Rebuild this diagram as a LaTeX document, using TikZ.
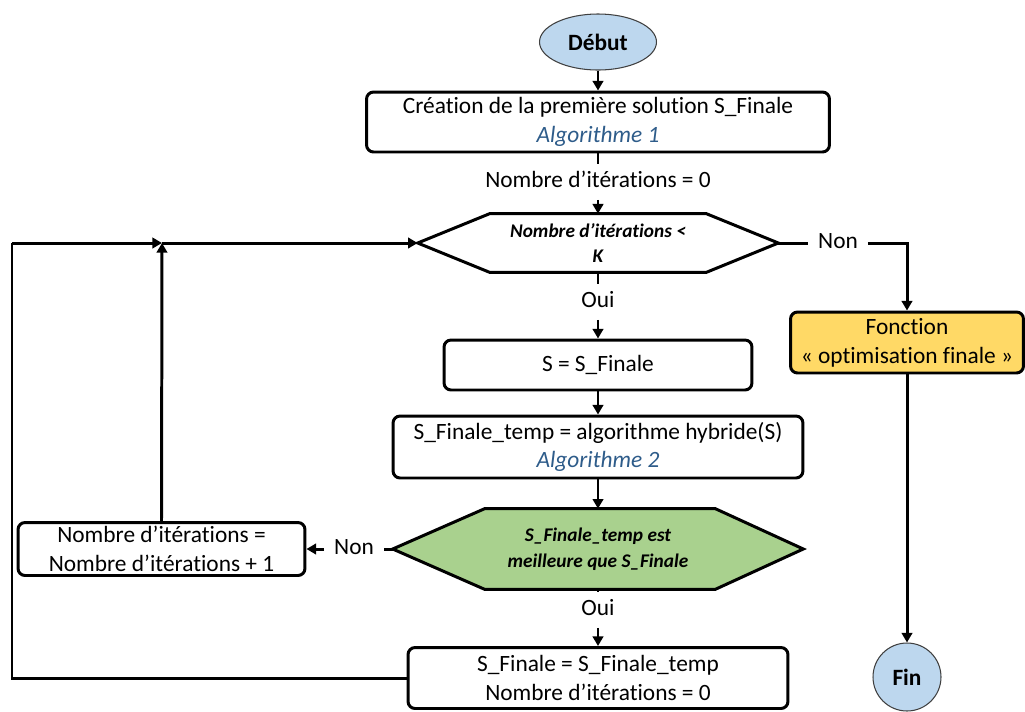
\documentclass[tikz,border=0pt]{standalone}
\usepackage{fontspec}
\setmainfont[Ligatures=NoCommon]{Carlito}
\usepackage{xcolor}
\usetikzlibrary{arrows.meta,backgrounds,calc,positioning,shapes.geometric}
\definecolor{debutblue}{HTML}{BDD7EE}
\definecolor{algoblue}{HTML}{2E5C8A}
\definecolor{optyellow}{HTML}{FFD966}
\definecolor{testgreen}{HTML}{A9D18E}

\begin{document}
\begin{tikzpicture}[x=0.02cm,y=-0.02cm,
    txt/.style={font=\fontsize{13.3}{16.4}\selectfont},
    etape/.style={txt,draw,rounded corners=4pt,line width=1.7pt,align=center,inner sep=0pt},
    testhex/.style={font=\fontsize{11}{14.7}\selectfont\bfseries\itshape,align=center,inner sep=0pt},
    borne/.style={font=\fontsize{13.3}{16}\selectfont\bfseries,draw=black!75,line width=0.6pt,fill=debutblue,inner sep=0pt},
    etiq/.style={txt,inner xsep=5.5pt,inner ysep=4pt,text height=9.3pt,text depth=2.7pt},
    lien/.style={line width=1.7pt},
    fleche/.style={lien,-{Triangle[length=5.5pt,width=6pt]}}]

                        \useasboundingbox (0,0) rectangle (1025,711);

                        % Drawing node debut
                        \node[borne,ellipse,minimum width=2.34cm,minimum height=1.12cm] (debut) at (598,42) {Début};

                        % Drawing node crea
                        \node[etape,minimum width=9.26cm,minimum height=1.2cm] (crea) at (598,122)
                            {Création de la première solution S\_Finale\\{\color{algoblue}\itshape Algorithme 1}};

                        % Marking point {nbzero}
                        \node[etiq] (nbzero) at (598,182) {Nombre d’itérations = 0};

                        % Drawing node hexa (test on K)
                        \node[testhex,minimum width=7.2cm,minimum height=1.16cm] (hexa) at (598,243)
                            {Nombre d’itérations <\\K};

                        % Marking point {nonA}
                        \node[etiq] (nonA) at (838,243) {Non};

                        % Drawing node fonc
                        \node[etape,fill=optyellow,minimum width=4.66cm,minimum height=1.22cm] (fonc) at (907,342.5)
                            {Fonction\\« optimisation finale »};

                        % Drawing node fin
                        \node[borne,circle,minimum size=1.36cm] (fin) at (907,677) {Fin};

                        % Marking point {ouiA}
                        \node[etiq] (ouiA) at (598,302) {Oui};

                        % Drawing node saff
                        \node[etape,minimum width=6.16cm,minimum height=1.0cm] (saff) at (598,365) {S = S\_Finale};

                        % Drawing node hyb
                        \node[etape,minimum width=8.2cm,minimum height=1.24cm] (hyb) at (598,447)
                            {S\_Finale\_temp = algorithme hybride(S)\\{\color{algoblue}\itshape Algorithme 2}};

                        % Drawing node hexb (comparison)
                        \node[testhex,minimum width=8.2cm,minimum height=1.6cm] (hexb) at (598,549)
                            {S\_Finale\_temp est\\meilleure que S\_Finale};

                        % Marking point {ouiB}
                        \node[etiq] (ouiB) at (598,610) {Oui};

                        % Drawing node sfin
                        \node[etape,minimum width=7.6cm,minimum height=1.22cm] (sfin) at (598,678)
                            {S\_Finale = S\_Finale\_temp\\Nombre d’itérations = 0};

                        % Marking point {nonB}
                        \node[etiq] (nonB) at (354,549) {Non};

                        % Drawing node incr
                        \node[etape,minimum width=5.74cm,minimum height=1.06cm] (incr) at (161.5,549)
                            {Nombre d’itérations =\\Nombre d’itérations + 1};

                        \coordinate (jonc) at (162,243);
                        \coordinate (coin) at (12,243);

                        % Drawing hexagons behind their texts
                        \begin{scope}[on background layer]
                        \filldraw[line width=1.7pt,fill=white] (hexa.west) -- ($(hexa.north west)+(72,0)$) -- ($(hexa.north east)+(-72,0)$)
                            -- (hexa.east) -- ($(hexa.south east)+(-72,0)$) -- ($(hexa.south west)+(72,0)$) -- cycle;
                        \filldraw[line width=1.7pt,fill=testgreen] (hexb.west) -- ($(hexb.north west)+(92,0)$) -- ($(hexb.north east)+(-88,0)$)
                            -- (hexb.east) -- ($(hexb.south east)+(-88,0)$) -- ($(hexb.south west)+(92,0)$) -- cycle;
                        \end{scope}

                        % Drawing arrows of the main column
                        \draw[fleche] (debut.south) -- (crea.north);
                        \draw[lien] (crea.south) -- (nbzero.north);
                        \draw[fleche] (nbzero.south) -- (hexa.north);
                        \draw[lien] (hexa.south) -- (ouiA.north);
                        \draw[fleche] (ouiA.south) -- (saff.north);
                        \draw[fleche] (saff.south) -- (hyb.north);
                        \draw[fleche] (hyb.south) -- (hexb.north);
                        \draw[lien] (hexb.south) -- (ouiB.north);
                        \draw[fleche] (ouiB.south) -- (sfin.north);

                        % Drawing arrows of the right branch
                        \draw[lien] (hexa.east) -- (nonA.west);
                        \draw[fleche] (nonA.east) -| (fonc.north);
                        \draw[fleche] (fonc.south) -- (fin.north);

                        % Drawing the loops back to the test
                        \draw[lien] (hexb.west) -- (nonB.east);
                        \draw[fleche] (nonB.west) -- (incr.east);
                        \draw[fleche] (incr.north) -- (jonc);
                        \draw[lien] (sfin.west) -| (coin);
                        \draw[fleche] (coin) -- (jonc);
                        \draw[fleche] (jonc) -- (hexa.west);
\end{tikzpicture}
\end{document}
